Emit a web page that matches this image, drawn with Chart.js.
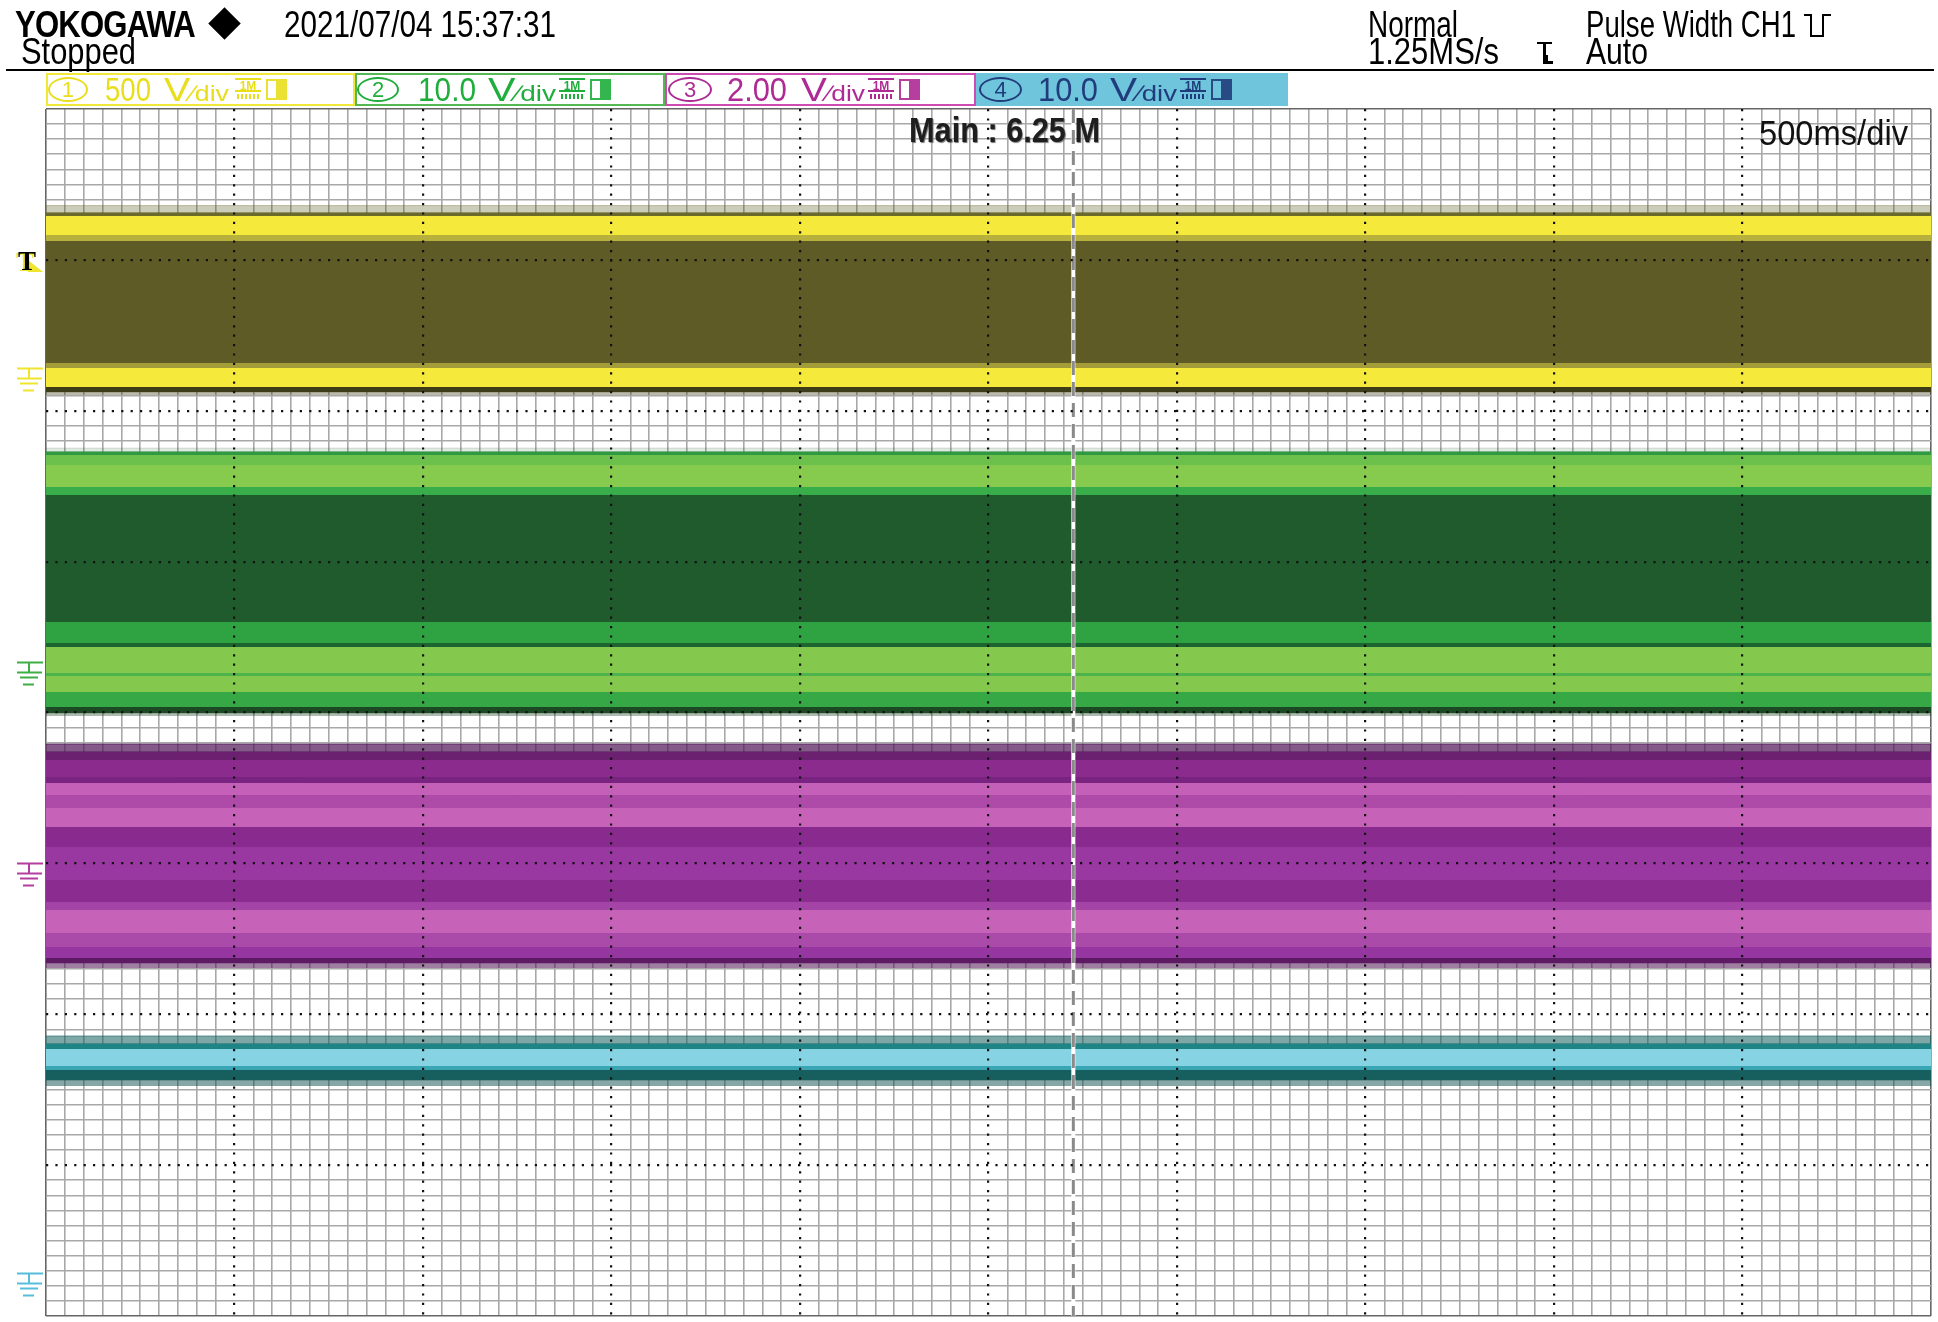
<!DOCTYPE html>
<html>
<head>
<meta charset="utf-8">
<title>Scope capture</title>
<script src="https://cdn.jsdelivr.net/npm/chart.js@4.4.1/dist/chart.umd.min.js"></script>
<style>
  html, body { margin: 0; padding: 0; background: #fff; }
  #wrap { position: relative; width: 1938px; height: 1322px; overflow: hidden; font-family: "Liberation Sans", Arial, sans-serif; }
  #scope { position: absolute; left: 0; top: 0; z-index: 0; }
  .txt { position: absolute; white-space: nowrap; line-height: 1; transform-origin: 0 0; z-index: 2; }
  .shape { position: absolute; box-sizing: border-box; z-index: 2; }
</style>
</head>
<body>
<div id="wrap">
  <canvas id="scope" width="1938" height="1322"></canvas>
</div>
<script>
// === SCOPE SCREEN ===
// Four channel bands on an 10 x 8 division graticule. Vertical unit = division (-4..4).

var timeSpan = [0, 10];                 // horizontal divisions, full sweep
var trigTime = 5.45;                    // trigger position (div)
var trigLevel = 2.933;                  // CH1 trigger level marker (div)
var groundLevels = [2.283, 0.335, -1.0, -3.715];

// band edges, top to bottom, per channel
var ch1Edges = [3.36, 3.311, 3.291, 3.165, 3.125, 2.316, 2.283, 2.157, 2.124, 2.104];
var ch2Edges = [1.753, 1.727, 1.707, 1.640, 1.495, 1.442, 0.600, 0.461, 0.434, 0.262, 0.242, 0.136, 0.036, -0.003, -0.023];
var ch3Edges = [-0.209, -0.262, -0.315, -0.4275, -0.467, -0.547, -0.633, -0.759, -0.891, -1.110,
                -1.256, -1.309, -1.461, -1.554, -1.627, -1.660, -1.693];
var ch4Edges = [-2.144, -2.197, -2.230, -2.343, -2.370, -2.436, -2.476];

// channel header labels
var chNumbers = ['1', '2', '3', '4'];
var chScales = ['500', '10.0', '2.00', '10.0'];

// --- styles ---
var ch1Fills = ['rgba(85,85,25,0.30)', '#6c6a2a', '#f5ea3c', '#b8b03c', '#5f5b26', '#a49c38', '#f5ea3c', '#3e3d19', 'rgba(60,60,20,0.35)'];
var ch2Fills = ['rgba(30,90,40,0.14)', '#2f9a42', '#6cc04c', '#86ca4e', '#3aad4b', '#1f5b2d', '#2fa242', '#1d6530',
                '#84c94e', '#4fb34d', '#84c94e', '#36a846', '#1c4a24', 'rgba(20,60,25,0.35)'];
var ch3Fills = ['rgba(80,20,85,0.7)', '#6c2070', '#8b2b8e', '#7a2481', '#c460b7', '#ae4aa8', '#c762b9', '#882a8e',
                '#9838a0', '#8a2c90', '#a444a6', '#c662b8', '#aa4aa9', '#9636a0', '#5e1b64', 'rgba(80,20,85,0.55)'];
var ch4Fills = ['rgba(20,95,95,0.55)', '#1f8486', '#86d3e3', '#3aa6b3', '#175f5f', 'rgba(15,80,80,0.5)'];
var chMarkColors = ['#efe52c', '#3fae45', '#b33ea0', '#56bedb'];
var chTextColors = ['#e9de1c', '#1fae3c', '#ae2a94', '#213c7c'];
var chBorderColors = ['#f1e93a', '#55b855', '#cc4cb2', '#6fc6dc'];
var chBoxFill = ['#fff', '#fff', '#fff', '#6fc6dc'];

// channel header layout (page px): box left/right, oval, value, unit, icons
var chBoxX = [[46, 355], [355, 665], [665, 976], [976, 1288]];
var chOvalX = [[48, 88], [357, 399], [668, 712], [979, 1022]];
var chValueX = [[105, 151], [418, 476], [727, 787], [1038, 1098]];
var chUnitX = [[164, 229], [488, 556], [801, 865], [1110, 1177]];
var chIconX = [235, 559, 868, 1180];

var wrap = document.getElementById('wrap');

function fitText(str, x0, x1, base, size, css) {
  var d = document.createElement('div');
  d.className = 'txt';
  d.style.fontSize = size + 'px';
  if (typeof str === 'string') d.textContent = str; else d.appendChild(str);
  if (css) Object.keys(css).forEach(function(k) { d.style[k] = css[k]; });
  wrap.appendChild(d);
  var w = d.getBoundingClientRect().width;
  d.style.left = x0 + 'px';
  d.style.top = (base - 0.8465 * size) + 'px';
  d.style.transform = 'scaleX(' + ((x1 - x0) / w).toFixed(4) + ')';
  return d;
}

function box(x, y, w, h, css) {
  var d = document.createElement('div');
  d.className = 'shape';
  d.style.left = x + 'px'; d.style.top = y + 'px';
  d.style.width = w + 'px'; d.style.height = h + 'px';
  Object.keys(css || {}).forEach(function(k) { d.style[k] = css[k]; });
  wrap.appendChild(d);
  return d;
}

// --- header ---
fitText('YOKOGAWA', 15, 195, 37, 37, { fontWeight: 'bold', color: '#000', letterSpacing: '-1px' });
box(213, 12, 23, 23, { background: '#000', transform: 'rotate(45deg)' });
fitText('2021/07/04 15:37:31', 284, 556, 37, 36, { color: '#000' });
fitText('Stopped', 21, 136, 64, 36, { color: '#000' });
fitText('Normal', 1368, 1458, 37, 36, { color: '#000' });
fitText('Pulse Width CH1', 1586, 1796, 37, 36, { color: '#000' });
fitText('1.25MS/s', 1368, 1499, 64, 36, { color: '#000' });
fitText('Auto', 1586, 1648, 64, 36, { color: '#000' });
box(6, 69, 1928, 2, { background: '#000' });

// pulse-width symbol
box(1804, 14, 8, 2, { background: '#000' });
box(1810, 14, 14, 23, { borderLeft: '2px solid #000', borderRight: '2px solid #000', borderBottom: '2px solid #000' });
box(1822, 14, 9, 2, { background: '#000' });
// trigger slope icon
box(1537, 42, 15, 2, { background: '#000' });
box(1543, 42, 3, 22, { background: '#000' });
box(1546, 55, 7, 9, { borderLeft: '2px solid #000', borderBottom: '3px solid #000' });

// --- channel boxes ---
chNumbers.forEach(function(n, i) {
  var c = chTextColors[i];
  box(chBoxX[i][0], 73, chBoxX[i][1] - chBoxX[i][0], 33,
      { border: '2px solid ' + chBorderColors[i], background: chBoxFill[i], zIndex: 1 });
  var ov = box(chOvalX[i][0], 77, chOvalX[i][1] - chOvalX[i][0], 25,
      { border: '2px solid ' + c, borderRadius: '50%', color: c, fontSize: '22px', lineHeight: '21px', textAlign: 'center' });
  ov.textContent = n;
  fitText(chScales[i], chValueX[i][0], chValueX[i][1], 101, 33, { color: c });
  var unit = document.createElement('span');
  unit.appendChild(document.createTextNode('V'));
  var sub = document.createElement('span');
  sub.textContent = '\u2215div';
  sub.style.fontSize = '0.68em';
  unit.appendChild(sub);
  fitText(unit, chUnitX[i][0], chUnitX[i][1], 101, 33, { color: c });
  var ic = box(chIconX[i], 78, 26, 14, { color: c, fontSize: '12px', lineHeight: '12px', fontWeight: 'bold', textAlign: 'center', borderTop: '2px solid ' + c, borderBottom: '2px solid ' + c });
  ic.textContent = '1M';
  box(chIconX[i] + 2, 94, 22, 5, { background: 'repeating-linear-gradient(90deg,' + c + ' 0 2px, transparent 2px 4px)' });
  box(chIconX[i] + 31, 79, 21, 21, { border: '2px solid ' + c,
      background: 'linear-gradient(90deg, transparent 0 45%, ' + c + ' 45% 100%)', opacity: 0.9 });
});

// --- in-screen annotations ---
fitText('Main : 6.25 M', 909, 1100, 142, 35, { fontWeight: 'bold', color: '#1e1e1e', textShadow: '1px 1px 1px #777' });
fitText('500ms/div', 1759, 1908, 145, 35, { color: '#111' });

// --- traces ---
function bandSets(edges, fills) {
  return edges.map(function(v, i) {
    var col = fills[Math.min(i, fills.length - 1)];
    return {
      data: timeSpan.map(function(t) { return { x: t, y: v }; }),
      borderColor: i < edges.length - 1 ? col : 'transparent',
      borderWidth: 1,
      backgroundColor: col,
      pointRadius: 0,
      fill: i < edges.length - 1 ? '+1' : false,
      order: 0
    };
  });
}

var datasets = []
  .concat(bandSets(ch1Edges, ch1Fills))
  .concat(bandSets(ch2Edges, ch2Fills))
  .concat(bandSets(ch3Edges, ch3Fills))
  .concat(bandSets(ch4Edges, ch4Fills));

datasets.push({
  data: [{ x: trigTime, y: 4 }, { x: trigTime, y: -4 }],
  borderColor: '#ffffff', borderWidth: 4, pointRadius: 0, fill: false, order: -1
});
datasets.push({
  data: [{ x: trigTime, y: 4 }, { x: trigTime, y: -4 }],
  borderColor: '#8a8a8a', borderWidth: 3, borderDash: [14, 7], pointRadius: 0, fill: false, order: -2
});

function minorColor(lo, hi) {
  return function(c) {
    var v = c.tick ? c.tick.value : 0;
    if (Math.abs(v - lo) < 1e-6 || Math.abs(v - hi) < 1e-6) return '#666';
    return Math.round(v * 10) % 10 === 0 ? 'rgba(0,0,0,0)' : '#a8a8a8';
  };
}
function majorColor(lo, hi) {
  return function(c) {
    var v = c.tick ? c.tick.value : 0;
    if (Math.abs(v - lo) < 1e-6 || Math.abs(v - hi) < 1e-6) return 'rgba(0,0,0,0)';
    return '#111';
  };
}

function gridAxis(min, max, step, horizontal, major) {
  return {
    type: 'linear', min: min, max: max, display: true,
    position: horizontal ? 'bottom' : 'left',
    ticks: { display: false, stepSize: step },
    grid: major
      ? { z: 1, drawTicks: false, lineWidth: 2.2, color: majorColor(min, max) }
      : { drawTicks: false, lineWidth: 1.6, color: minorColor(min, max) },
    border: major ? { display: false, dash: [2.2, 7.2] } : { display: false },
    afterFit: function(s) { if (horizontal) s.height = 0; else s.width = 0; }
  };
}

// side markers: ground symbols and CH1 trigger level
var sideMarks = {
  id: 'sideMarks',
  afterDraw: function(chart) {
    var ctx = chart.ctx, y = chart.scales.y;
    groundLevels.forEach(function(v, i) {
      var py = Math.round(y.getPixelForValue(v)) + 0.5;
      ctx.save();
      ctx.strokeStyle = chMarkColors[i];
      ctx.lineWidth = 2;
      ctx.beginPath();
      ctx.moveTo(17, py); ctx.lineTo(43, py);
      ctx.moveTo(29, py); ctx.lineTo(29, py + 10);
      ctx.moveTo(17, py + 10); ctx.lineTo(42, py + 10);
      ctx.moveTo(20, py + 15); ctx.lineTo(38, py + 15);
      ctx.moveTo(23, py + 22); ctx.lineTo(34, py + 22);
      ctx.stroke();
      ctx.restore();
    });
    var ty = y.getPixelForValue(trigLevel);
    ctx.save();
    ctx.fillStyle = chMarkColors[0];
    ctx.beginPath();
    ctx.moveTo(28, ty - 10); ctx.lineTo(43, ty + 2); ctx.lineTo(28, ty + 2);
    ctx.closePath(); ctx.fill();
    ctx.font = 'bold 27px "Liberation Serif"';
    ctx.textBaseline = 'alphabetic';
    ctx.fillText('T', 16, ty + 1);
    ctx.fillStyle = '#000';
    ctx.fillText('T', 18, ty);
    ctx.restore();
  }
};

new Chart(document.getElementById('scope'), {
  type: 'line',
  data: { datasets: datasets },
  options: {
    responsive: false,
    animation: false,
    events: [],
    layout: { padding: { left: 46, top: 109, right: 7, bottom: 6 } },
    plugins: { legend: { display: false }, tooltip: { enabled: false } },
    elements: { line: { tension: 0 } },
    scales: {
      x: gridAxis(timeSpan[0], timeSpan[1], 0.1, true, false),
      xMaj: gridAxis(timeSpan[0], timeSpan[1], 1, true, true),
      y: gridAxis(-4, 4, 0.1, false, false),
      yMaj: gridAxis(-4, 4, 1, false, true)
    }
  },
  plugins: [sideMarks]
});
</script>
</body>
</html>
